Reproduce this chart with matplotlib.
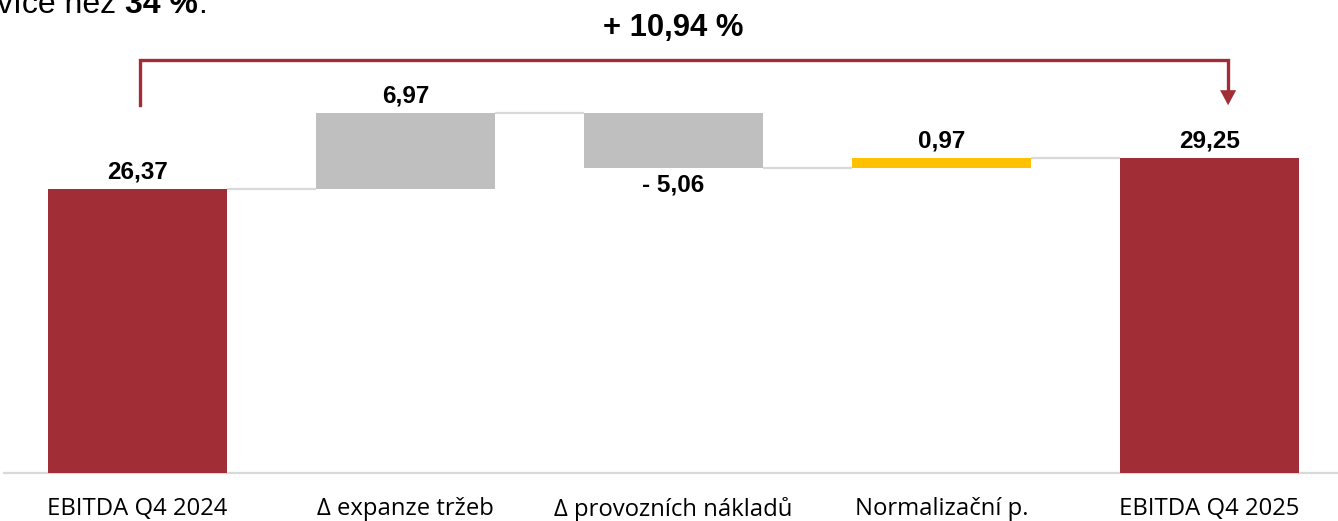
import matplotlib
matplotlib.use("Agg")
import matplotlib.pyplot as plt
import numpy as np

# waterfall data
categories = ["EBITDA Q4 2024", "Δ expanze tržeb", "Δ provozních nákladů",
              "Normalizační p.", "EBITDA Q4 2025"]
values = [26.37, 6.97, -5.06, 0.97, 29.25]
kinds = ["total", "delta", "delta", "delta", "total"]
change_label = "+ 10,94 %"

RED = "#A12D36"
GRAY = "#BFBFBF"
YELLOW = "#FFC000"
LINE = "#D9D9D9"
colors = [RED, GRAY, GRAY, YELLOW, RED]

def fmt(v):
    s = f"{abs(v):.2f}".replace(".", ",")
    return ("- " + s) if v < 0 else s

# bottoms / heights
bottoms, heights, levels = [], [], []
run = 0.0
for v, k in zip(values, kinds):
    if k == "total":
        bottoms.append(0.0)
        heights.append(v)
        run = v
    else:
        bottoms.append(run if v >= 0 else run + v)
        heights.append(abs(v))
        run = run + v
    levels.append(run)

W, H = 1338, 521
fig = plt.figure(figsize=(W / 100, H / 100), dpi=100)
ax = fig.add_axes([0.0, 0.0912, 1.0, 0.9088])

x = np.arange(len(categories))
bw = 0.668
ax.bar(x, heights, bottom=bottoms, width=bw, color=colors, zorder=3)

# connectors
for i in range(len(x) - 1):
    ax.plot([x[i] + bw / 2, x[i + 1] - bw / 2], [levels[i], levels[i]],
            color=LINE, lw=1.6, zorder=2, solid_capstyle="butt")

# value labels
for i, (v, b, h) in enumerate(zip(values, bottoms, heights)):
    if v >= 0:
        ax.annotate(fmt(v), (x[i], b + h), xytext=(0, 4), textcoords="offset points",
                    ha="center", va="bottom", fontsize=17.5, fontweight="bold",
                    family="Liberation Sans")
    else:
        ax.annotate(fmt(v), (x[i], b), xytext=(0, -4), textcoords="offset points",
                    ha="center", va="top", fontsize=17.5, fontweight="bold",
                    family="Liberation Sans")

# bracket arrow from first to last total
xl, xr = x[0] + 0.01, x[-1] + 0.069
y_low, y_top = 34.1, 38.3
ax.plot([xl, xl, xr, xr], [y_low, y_top, y_top, y_low + 1.2],
        color=RED, lw=2.4, solid_joinstyle="miter", clip_on=False, zorder=4)
ax.annotate("", xy=(xr, y_low), xytext=(xr, y_low + 1.5),
            arrowprops=dict(arrowstyle="-|>,head_length=1.08,head_width=0.58",
                            mutation_scale=10, color=RED, lw=0,
                            shrinkA=0, shrinkB=0))
ax.text((x[0] + x[-1]) / 2, 39.9, change_label, ha="center", va="bottom",
        fontsize=22.3, fontweight="bold", family="Liberation Sans")

# cut-off text at top left
base = 1 - 13 / H
t1 = fig.text(-0.002, base, "více než ", ha="left", va="baseline",
              fontsize=23, family="Liberation Sans")
fig.canvas.draw()
bb = t1.get_window_extent()
t2 = fig.text(bb.x1 / W, base, "34 %", ha="left", va="baseline",
              fontsize=23, fontweight="bold", family="Liberation Sans")
fig.canvas.draw()
bb2 = t2.get_window_extent()
fig.text(bb2.x1 / W, base, ".", ha="left", va="baseline",
         fontsize=23, family="Liberation Sans")

ax.set_xlim(-0.513, 4.479)
ax.set_ylim(0, 43.84)
ax.set_xticks(x)
ax.set_xticklabels(categories, fontsize=17.2, family="Open Sans")
ax.tick_params(axis="x", length=0, pad=17)
ax.set_yticks([])
for s in ["top", "right", "left"]:
    ax.spines[s].set_visible(False)
ax.spines["bottom"].set_color(LINE)
ax.spines["bottom"].set_linewidth(1.6)
ax.spines["bottom"].set_bounds(-0.498, 4.479)
ax.patch.set_visible(False)

fig.savefig("out.png", dpi=100)
